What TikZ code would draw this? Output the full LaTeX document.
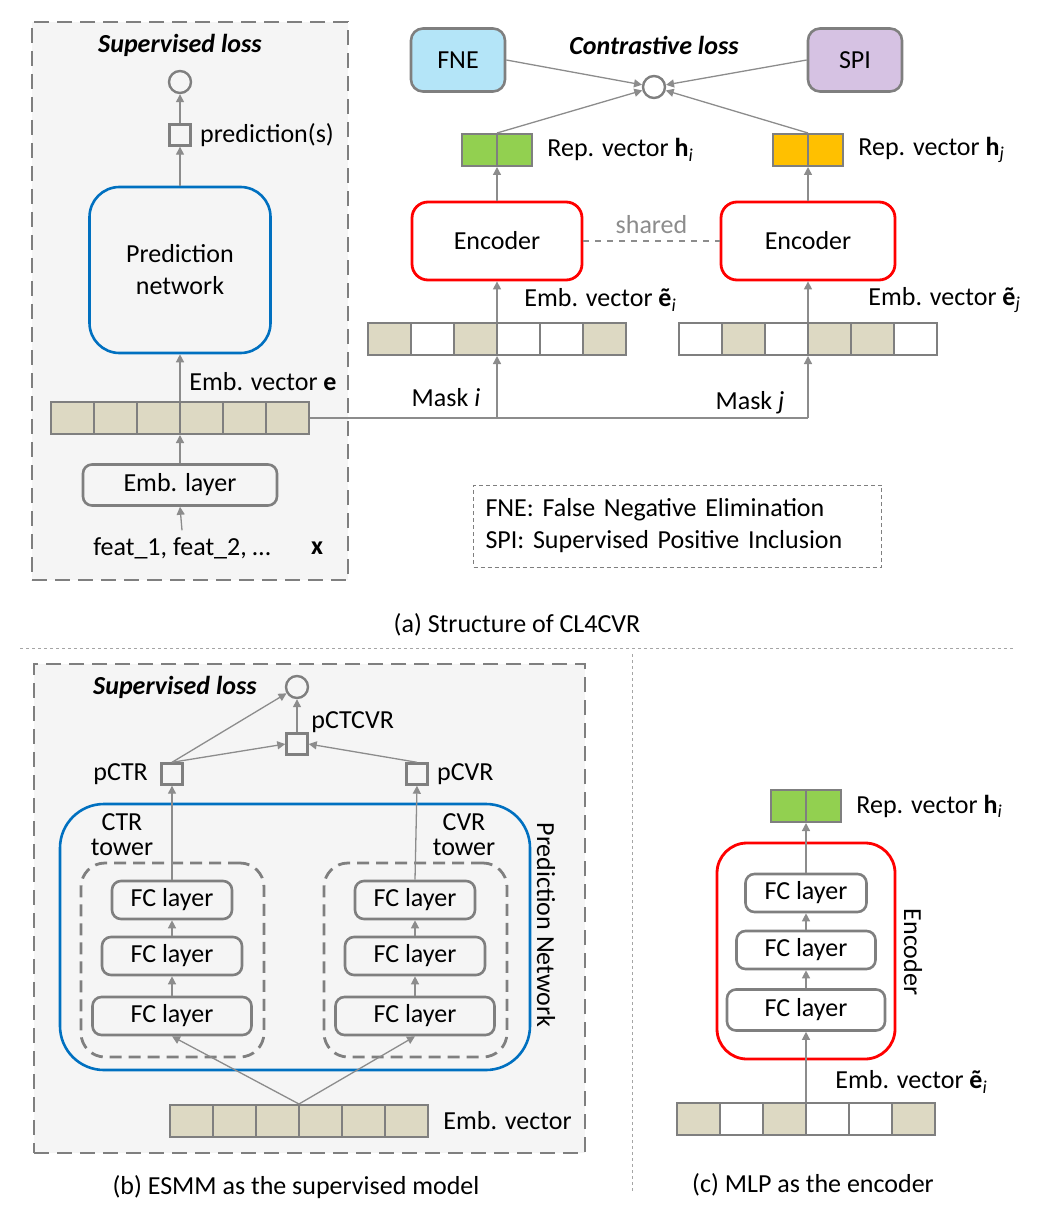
\documentclass[tikz,border=0pt]{standalone}
\usepackage{fontspec}
\setmainfont{Carlito}
\usetikzlibrary{arrows.meta,positioning}

\definecolor{edgegray}{HTML}{7F7F7F}
\definecolor{arrowgray}{HTML}{8C8C8C}
\definecolor{panelgray}{HTML}{F5F5F5}
\definecolor{embfill}{HTML}{DDD9C3}
\definecolor{netblue}{HTML}{0070C0}
\definecolor{encred}{HTML}{FF0000}
\definecolor{repgreen}{HTML}{92D050}
\definecolor{reporange}{HTML}{FFC000}
\definecolor{fnefill}{HTML}{B4E5F8}
\definecolor{spifill}{HTML}{D6C2E3}

\tikzset{
  panel/.style={rectangle,draw=edgegray,fill=panelgray,line width=1.4pt,dash pattern=on 7.5pt off 4pt},
  towerbox/.style={rectangle,rounded corners=12pt,draw=edgegray,line width=1.4pt,dash pattern=on 6pt off 3.5pt,
    minimum width=91.5pt,minimum height=97pt},
  legendbox/.style={rectangle,draw=edgegray,line width=0.5pt,dash pattern=on 2pt off 1.5pt,
    text width=192pt,inner sep=6pt,align=left,minimum height=41pt},
  lossnode/.style={circle,draw=edgegray,line width=1.2pt,minimum size=11pt,inner sep=0pt},
  prednode/.style={rectangle,draw=edgegray,line width=1.2pt,minimum size=10.5pt,inner sep=0pt},
  layerbox/.style={rectangle,rounded corners=4.5pt,draw=edgegray,line width=1.3pt,minimum height=19pt,inner sep=0pt},
  netbox/.style={rectangle,draw=netblue,line width=1.3pt,align=center},
  encbox/.style={rectangle,draw=encred,line width=1.4pt},
  tagbox/.style={rectangle,rounded corners=6pt,draw=edgegray,line width=1.3pt,minimum width=47pt,minimum height=31.5pt},
  cell/.style={rectangle,draw=edgegray,line width=1pt,minimum width=21.5pt,minimum height=16pt,inner sep=0pt},
  vecbox/.style={rectangle,draw=edgegray,line width=1pt,minimum width=129pt,minimum height=16pt,inner sep=0pt},
  repbox/.style={rectangle,draw=edgegray,line width=1pt,minimum width=35pt,minimum height=16pt,inner sep=0pt},
  lbl/.style={inner sep=1pt},
  conn/.style={->,draw=arrowgray,line width=0.65pt},
  plainline/.style={draw=arrowgray,line width=0.65pt},
  sepline/.style={draw=edgegray!70,line width=0.5pt,dash pattern=on 1.5pt off 1.5pt}
}

\begin{document}
\begin{tikzpicture}[x=0.5pt,y=-0.5pt,>={Triangle[length=4pt,width=4pt]},font=\fontsize{13}{16}\selectfont]

\useasboundingbox (0,0) rectangle (1044,1208);

% ---------- (a) supervised part
\node[panel,minimum width=158pt,minimum height=279pt] (panelA) at (190,301) {};
\node (supA) at (180,45) {\textbf{\textit{Supervised loss}}};
\node[lossnode] (lossA) at (180,82) {};
\node[prednode] (predS) at (180,135) {};
\node[lbl,right=3pt of predS] (predSlbl) {prediction(s)};
\node[netbox,rounded corners=15pt,minimum width=90.5pt,minimum height=83pt] (predNet) at (180,270) {Prediction\\network};
\foreach \k in {1,...,6}
  \node[cell,fill=embfill] (embE-\k) at ({29.5+43*\k},418) {};
\node[vecbox] (embE) at (180,418) {};
\node[lbl,anchor=west] (embElbl) at (187,382) {Emb. vector \textbf{e}};
\node[layerbox,minimum width=97pt,minimum height=20.5pt] (embLayer) at (180,485) {Emb. layer};
\node (feat) at (182,548) {feat\_1, feat\_2, …};
\node (xvec) at (317,548) {\textbf{x}};

\path (feat.north)     edge[conn] (embLayer.south)
      (embLayer.north) edge[conn] (embE.south)
      (embE.north)     edge[conn] (predNet.south)
      (predNet.north)  edge[conn] (predS.south)
      (predS.north)    edge[conn] (lossA.south);

% ---------- (a) contrastive part
\node[tagbox,fill=fnefill] (fne) at (458,60) {FNE};
\node[tagbox,fill=spifill] (spi) at (855,60) {SPI};
\node (conLoss) at (654,45) {\textbf{\textit{Contrastive loss}}};
\node[lossnode] (lossC) at (654,87) {};

\node[repbox,fill=repgreen] (repI) at (497,150) {};
\draw[edgegray,line width=1pt] (repI.north) -- (repI.south);
\node[lbl,right=6pt of repI] (repIlbl) {Rep. vector \textbf{h}\textsubscript{\textit{i}}};
\node[repbox,fill=reporange] (repJ) at (808,150) {};
\draw[edgegray,line width=1pt] (repJ.north) -- (repJ.south);
\node[lbl,right=6pt of repJ] (repJlbl) {Rep. vector \textbf{h}\textsubscript{\textit{j}}};

\node[encbox,rounded corners=8pt,minimum width=85pt,minimum height=39pt] (encI) at (497,241) {Encoder};
\node[encbox,rounded corners=8pt,minimum width=87pt,minimum height=39pt] (encJ) at (808,241) {Encoder};

\foreach \k/\c in {1/embfill,2/white,3/embfill,4/white,5/white,6/embfill}
  \node[cell,fill=\c] (embI-\k) at ({346.5+43*\k},339) {};
\node[vecbox] (embI) at (497,339) {};
\foreach \k/\c in {1/white,2/embfill,3/white,4/embfill,5/embfill,6/white}
  \node[cell,fill=\c] (embJ-\k) at ({657.5+43*\k},339) {};
\node[vecbox] (embJ) at (808,339) {};
\node[lbl,anchor=west] (embIlbl) at (522,300) {Emb. vector \textbf{ẽ}\textsubscript{\textit{i}}};
\node[lbl,anchor=west] (embJlbl) at (866,300) {Emb. vector \textbf{ẽ}\textsubscript{\textit{j}}};

\coordinate (maskI) at (embI.south |- embE.east);
\coordinate (maskJ) at (embJ.south |- embE.east);
\node (maskIlbl) at (446,398) {Mask \textit{i}};
\node (maskJlbl) at (750,403) {Mask \textit{j}};

\draw[plainline] (embE.east) -- (maskJ);
\path (maskI)      edge[conn] (embI.south)
      (maskJ)      edge[conn] (embJ.south)
      (embI.north) edge[conn] (encI.south)
      (embJ.north) edge[conn] (encJ.south)
      (encI.north) edge[conn] (repI.south)
      (encJ.north) edge[conn] (repJ.south)
      (repI.north) edge[conn] (lossC)
      (repJ.north) edge[conn] (lossC)
      (fne.east)   edge[conn] (lossC)
      (spi.west)   edge[conn] (lossC)
      (encI.east)  edge[plainline,dashed] node[above,text=arrowgray] (sharedlbl) {shared} (encJ.west);

\node[legendbox] (legend) at (677.5,526) {FNE: False Negative Elimination\\SPI: Supervised Positive Inclusion};
\node (capA) at (517,625) {(a) Structure of CL4CVR};

% ---------- separators
\draw[sepline] (20,648) -- (1015,648);
\draw[sepline] (632,654) -- (632,1192);

% ---------- (b) ESMM
\node[panel,minimum width=275.5pt,minimum height=244.5pt] (panelB) at (309.5,908.5) {};
\node (supB) at (175,687) {\textbf{\textit{Supervised loss}}};
\node[lossnode] (lossB) at (297,687) {};
\node[prednode] (pctcvr) at (297,744) {};
\node[lbl,anchor=west] (pctcvrlbl) at (309,722) {pCTCVR};
\node[prednode] (pctr) at (172,774) {};
\node[lbl,left=5pt of pctr] (pctrlbl) {pCTR};
\node[prednode] (pcvr) at (417,774) {};
\node[lbl,right=3pt of pcvr] (pcvrlbl) {pCVR};

\node[netbox,rounded corners=22pt,minimum width=235pt,minimum height=133pt] (predNetB) at (295,937) {};
\node[rotate=-90] (predNetBlbl) at (546,925) {Prediction Network};
\node[align=center,font=\fontsize{13}{12.5}\selectfont] (ctrlbl) at (122,835) {CTR\\tower};
\node[align=center,font=\fontsize{13}{12.5}\selectfont] (cvrlbl) at (464,835) {CVR\\tower};
\node[towerbox] (towerL) at (172.5,960) {};
\node[towerbox] (towerR) at (415.5,960) {};

\node[layerbox,minimum width=60pt]   (ctr3) at (172,900)  {FC layer};
\node[layerbox,minimum width=70pt]   (ctr2) at (172,956)  {FC layer};
\node[layerbox,minimum width=79.5pt] (ctr1) at (172,1016) {FC layer};
\node[layerbox,minimum width=60pt]   (cvr3) at (415,900)  {FC layer};
\node[layerbox,minimum width=70pt]   (cvr2) at (415,956)  {FC layer};
\node[layerbox,minimum width=79.5pt] (cvr1) at (415,1016) {FC layer};

\foreach \k in {1,...,6}
  \node[cell,fill=embfill] (embB-\k) at ({148.5+43*\k},1121) {};
\node[vecbox] (embB) at (299,1121) {};
\node[lbl,right=6pt of embB] (embBlbl) {Emb. vector};

\path (embB.north)   edge[conn] (ctr1.south)
      (embB.north)   edge[conn] (cvr1.south)
      (ctr1.north)   edge[conn] (ctr2.south)
      (ctr2.north)   edge[conn] (ctr3.south)
      (cvr1.north)   edge[conn] (cvr2.south)
      (cvr2.north)   edge[conn] (cvr3.south)
      (ctr3.north)   edge[conn] (pctr.south)
      (cvr3.north)   edge[conn] (pcvr.south)
      (pctr.north)   edge[conn] (lossB)
      (pctr.north)   edge[conn] (pctcvr.west)
      (pcvr.north)   edge[conn] (pctcvr.east)
      (pctcvr.north) edge[conn] (lossB.south);
\node (capB) at (296,1187) {(b) ESMM as the supervised model};

% ---------- (c) MLP encoder
\node[repbox,fill=repgreen] (repC) at (806,806) {};
\draw[edgegray,line width=1pt] (repC.north) -- (repC.south);
\node[lbl,right=6pt of repC] (repClbl) {Rep. vector \textbf{h}\textsubscript{\textit{i}}};
\node[encbox,rounded corners=15pt,minimum width=89pt,minimum height=108pt] (encC) at (806,951) {};
\node[rotate=-90] (encClbl) at (913,952) {Encoder};
\node[layerbox,minimum width=60.5pt] (fc3) at (806,893)  {FC layer};
\node[layerbox,minimum width=69.5pt] (fc2) at (806,950)  {FC layer};
\node[layerbox,minimum width=79pt,minimum height=20.5pt] (fc1) at (806,1010) {FC layer};
\foreach \k/\c in {1/embfill,2/white,3/embfill,4/white,5/white,6/embfill}
  \node[cell,fill=\c] (embC-\k) at ({655.5+43*\k},1119) {};
\node[vecbox] (embC) at (806,1119) {};
\node[lbl,anchor=west] (embClbl) at (833,1082) {Emb. vector \textbf{ẽ}\textsubscript{\textit{i}}};

\path (embC.north) edge[conn] (fc1.south)
      (fc1.north)  edge[conn] (fc2.south)
      (fc2.north)  edge[conn] (fc3.south)
      (fc3.north)  edge[conn] (repC.south);
\node (capC) at (813,1185) {(c) MLP as the encoder};

\end{tikzpicture}
\end{document}
